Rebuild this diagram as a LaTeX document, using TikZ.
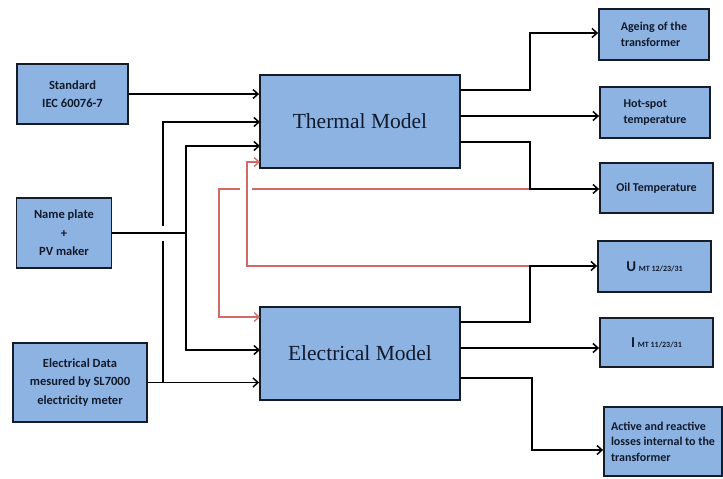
\documentclass[tikz,border=0pt]{standalone}
\usepackage{fontspec}
\setmainfont{Liberation Serif}
\newfontfamily\calfont{Carlito}
\usetikzlibrary{arrows.meta}
\definecolor{boxfill}{HTML}{8DB3E2}
\definecolor{boxline}{HTML}{151C28}
\definecolor{txt}{HTML}{121A2C}
\definecolor{redline}{HTML}{D06A66}
\tikzset{
  box/.style={draw=boxline, line width=1.8pt, fill=boxfill, inner sep=0pt, text=txt},
  sbox/.style={box, font=\calfont\bfseries\fontsize{12.5}{18.5}\selectfont, align=center},
  rbox/.style={box, font=\calfont\bfseries\fontsize{12}{15.5}\selectfont, align=left},
  model/.style={box, font=\fontsize{21.5}{24}\selectfont},
  wire/.style={line width=1.5pt, black},
  arr/.style={wire, -{Straight Barb[length=5pt,width=9pt]}},
  redwire/.style={line width=1.3pt, redline},
  redarr/.style={redwire, -{Straight Barb[length=5pt,width=9pt]}}
}
\begin{document}
\begin{tikzpicture}[x=1pt,y=-1pt]
\useasboundingbox (0,0) rectangle (723,479);
% left boxes
\node[sbox, minimum width=111pt, minimum height=60pt] (std) at (72.5,94) {Standard\\IEC 60076-7};
\node[sbox, minimum width=95pt, minimum height=70pt] (np) at (64,233) {Name plate\\+\\PV maker};
\node[sbox, minimum width=134pt, minimum height=79pt] (ed) at (80,382.5) {Electrical Data\\mesured by SL7000\\electricity meter};
% models
\node[model, minimum width=200pt, minimum height=93pt] (therm) at (360,121.5) {Thermal Model};
\node[model, minimum width=200pt, minimum height=93pt] (elec) at (360,353.5) {Electrical Model};
% right boxes
\node[rbox, minimum width=110pt, minimum height=51pt] (age) at (654,34.5) {Ageing of the\\transformer};
\node[rbox, minimum width=110pt, minimum height=51pt] (hot) at (655,112.5) {Hot-spot\\temperature};
\node[rbox, minimum width=113pt, minimum height=50pt] (oil) at (656.5,188) {Oil Temperature};
\node[rbox, minimum width=113pt, minimum height=51pt] (umt) at (654.5,266.5) {{\fontsize{15}{15}\selectfont U} {\fontsize{8}{8}\selectfont MT 12/23/31}};
\node[rbox, minimum width=113pt, minimum height=49pt] (imt) at (656.5,342.5) {{\fontsize{15}{15}\selectfont I} {\fontsize{8}{8}\selectfont MT 11/23/31}};
\node[rbox, minimum width=118pt, minimum height=69pt] (act) at (663,441.5) {Active and reactive\\losses internal to the\\transformer};
% coordinates
\coordinate (tin2) at (260,122);
\coordinate (tin3) at (260,146);
\coordinate (tinr) at (260,162);
\coordinate (einr) at (260,317);
\coordinate (ein2) at (260,350);
\coordinate (tout1) at (460,90);
\coordinate (tout2) at (460,116);
\coordinate (tout3) at (460,142);
\coordinate (eout1) at (460,322);
\coordinate (eout2) at (460,348);
\coordinate (eout3) at (460,378);
\coordinate (j1) at (163,382.5);
\coordinate (j1a) at (163,241);
\coordinate (j1b) at (163,226);
\coordinate (jnp) at (186,233);
\coordinate (jo) at (530,189);
\coordinate (ju) at (530,266);
\coordinate (ja) at (532,450);
\coordinate (ja0) at (530,33);
\coordinate (jr1) at (252,189);
\coordinate (jr2) at (240,189);
% red feedback lines
\draw[redarr] (ju) -- (247,266) |- (tinr);
\draw[redwire] (jo) -- (jr1);
\draw[redarr] (jr2) -- (219,189) |- (einr);
% inputs
\draw[arr] (std.east) -- (std.east -| therm.west);
\draw[arr] (ed.east) -- (ed.east -| elec.west);
\draw[wire] (j1) -- (j1a);
\draw[arr] (j1b) |- (tin2);
\draw[wire] (np.east) -- (jnp);
\draw[arr] (jnp) |- (tin3);
\draw[arr] (jnp) |- (ein2);
% outputs
\draw[arr] (tout1) -| (ja0) -- (ja0 -| age.west);
\draw[arr] (tout2) -- (tout2 -| hot.west);
\draw[arr] (tout3) -| (jo) -- (jo -| oil.west);
\draw[arr] (eout1) -| (ju) -- (ju -| umt.west);
\draw[arr] (eout2) -- (eout2 -| imt.west);
\draw[arr] (eout3) -| (ja) -- (ja -| act.west);
\end{tikzpicture}
\end{document}
